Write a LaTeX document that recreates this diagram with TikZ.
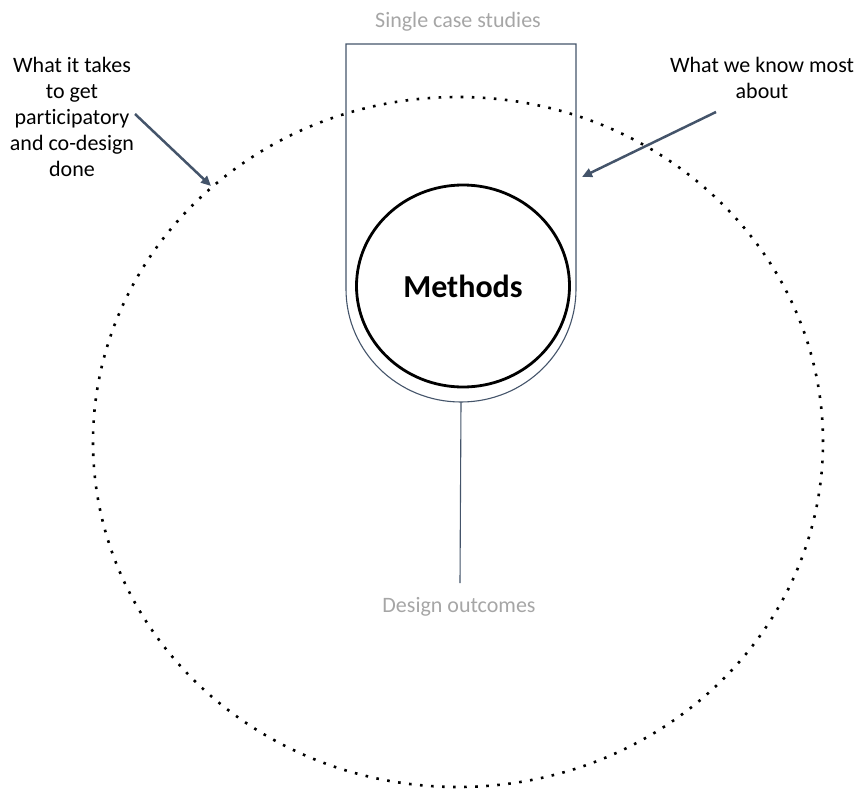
\documentclass[tikz,border=0pt]{standalone}
\usepackage{fontspec}
\setmainfont{Carlito}[Ligatures={NoCommon}]
\usetikzlibrary{arrows.meta,shapes.geometric}
\definecolor{slate}{RGB}{68,84,106}
\definecolor{lightgr}{RGB}{166,166,166}
\tikzset{
  lbl/.style={font=\fontsize{22}{26}\selectfont, inner sep=0pt, align=center},
  graylbl/.style={lbl, text=lightgr},
  pointer/.style={draw=slate, line width=2.5pt, -{Triangle[length=10pt,width=9pt]}},
  ushape/.style={draw=slate, line width=1.1pt},
  dotring/.style={draw=black, line width=2.6pt, dash pattern=on 2.6pt off 8.45pt},
  methods/.style={ellipse, draw=black, line width=2.8pt, minimum width=213pt, minimum height=202pt,
    font=\fontsize{32}{36}\selectfont\bfseries}
}
\begin{document}
\begin{tikzpicture}[x=1pt,y=-1pt]
\useasboundingbox (0,0) rectangle (859,789);
% dotted ring
\draw[dotring] (458,442) ellipse [x radius=365pt, y radius=345pt];
% U shape
\draw[ushape] (346,44) -- (346,289) arc[start angle=180, end angle=360, x radius=115pt, y radius=113pt] -- (576,44) -- cycle;
\coordinate (ubottom) at (461,402);
\node[methods] (meth) at (463,286) {Methods};
% labels
\node[graylbl, anchor=base] (single) at (458,28) {Single case studies};
\node[graylbl, anchor=base] (design) at (459,612) {Design outcomes};
\coordinate (dtop) at (460,583);
\draw[ushape] (ubottom) -- (dtop);
\node[lbl, anchor=north] (left) at (72,57) {What it takes\\to get\\participatory\\and co-design\\done};
\node[lbl, anchor=north] (right) at (762,57) {What we know most\\about};
\coordinate (ls) at (135,114);
\coordinate (le) at (211,186);
\coordinate (rs) at (716,112);
\coordinate (re) at (582,177);
\draw[pointer] (ls) -- (le);
\draw[pointer] (rs) -- (re);
\end{tikzpicture}
\end{document}
